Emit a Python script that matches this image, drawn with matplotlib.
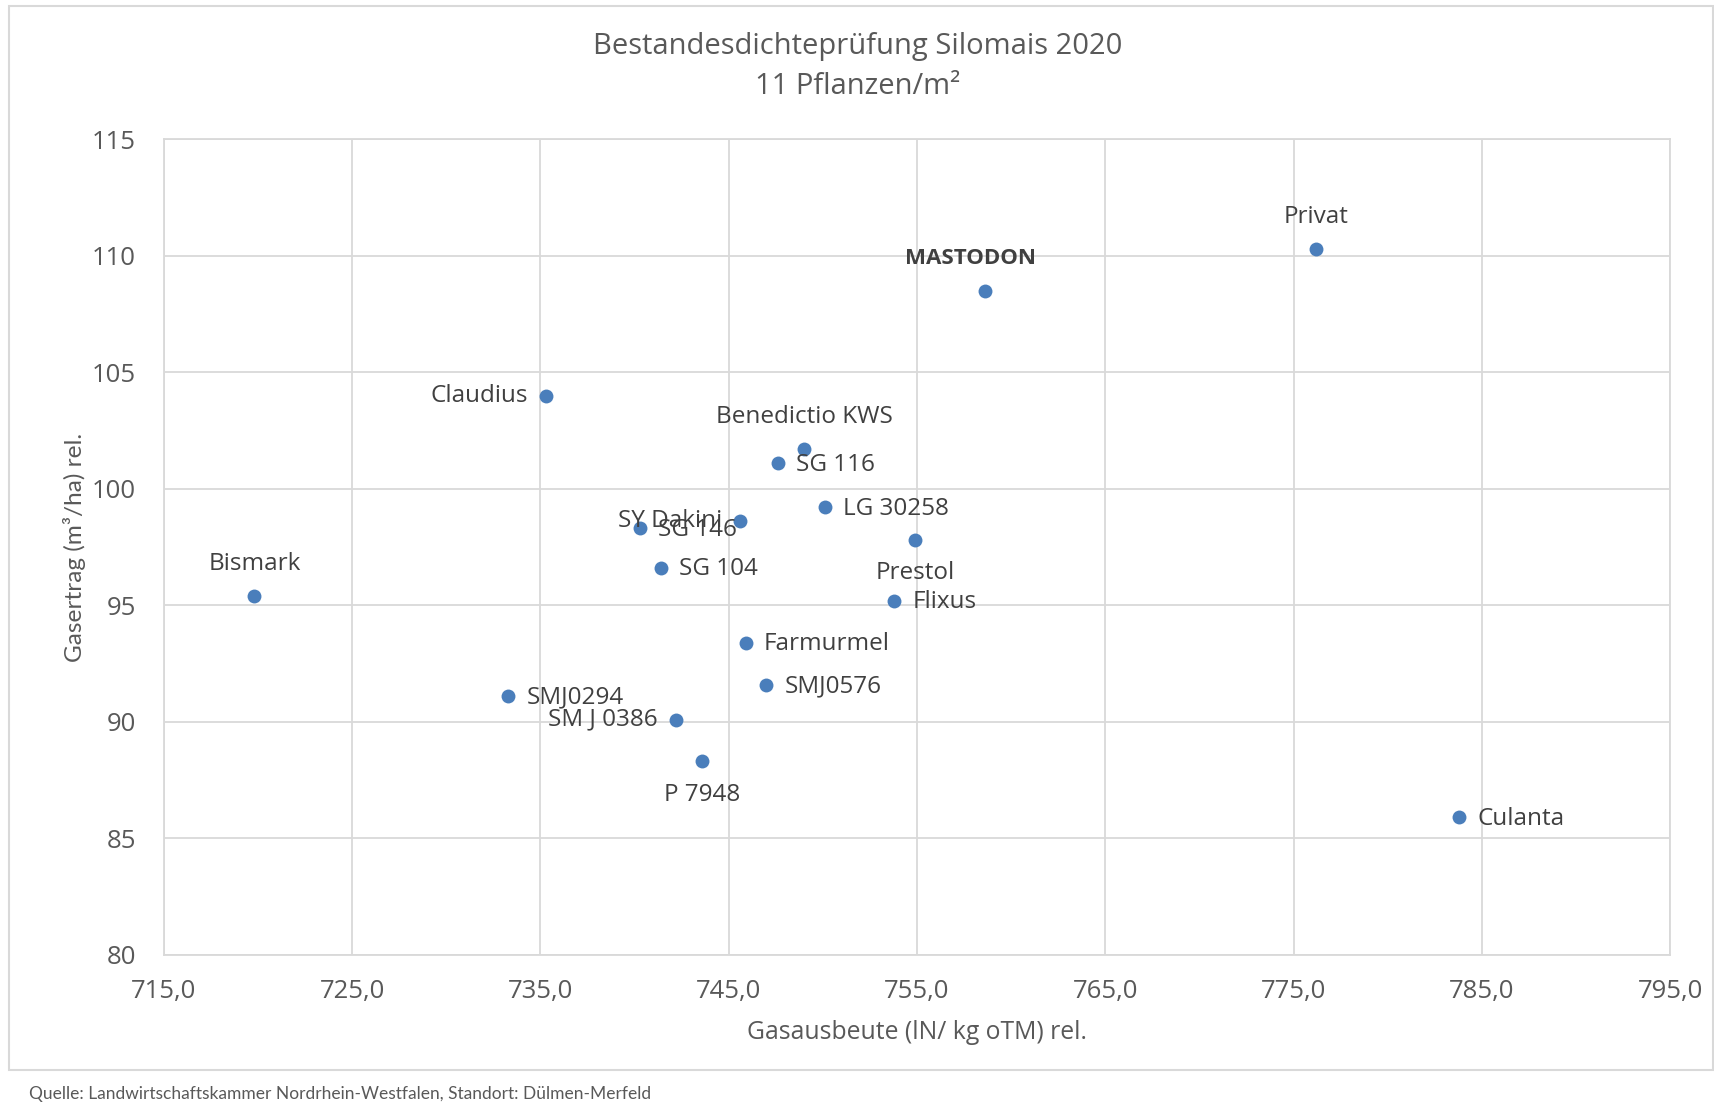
import matplotlib
matplotlib.use("Agg")
import matplotlib.pyplot as plt
from matplotlib.patches import Rectangle

# Sorten, Gasausbeute (x) und Gasertrag (y), relativ
sorten = ["Privat", "MASTODON", "Claudius", "Benedictio KWS", "SG 116", "LG 30258",
          "SY Dakini", "SG 146", "SG 104", "Prestol", "Flixus", "Bismark",
          "Farmurmel", "SMJ0576", "SMJ0294", "SM J 0386", "P 7948", "Culanta"]
gasausbeute = [776.2, 758.6, 735.3, 749.0, 747.6, 750.1,
               745.6, 740.3, 741.4, 754.9, 753.8, 719.8,
               745.9, 747.0, 733.3, 742.2, 743.6, 783.8]
gasertrag = [110.3, 108.5, 104.0, 101.7, 101.1, 99.2,
             98.6, 98.3, 96.6, 97.8, 95.2, 95.4,
             93.4, 91.6, 91.1, 90.1, 88.3, 85.9]

x_ticks = [715, 725, 735, 745, 755, 765, 775, 785, 795]
y_ticks = [80, 85, 90, 95, 100, 105, 110, 115]

# label placement: above / below / right / left of the point
pos = {"Privat": "above", "MASTODON": "above", "Claudius": "left",
       "Benedictio KWS": "above", "Prestol": "below", "Bismark": "above",
       "P 7948": "below", "SY Dakini": "left", "SM J 0386": "left"}

grey = "#595959"
grid = "#d9d9d9"
blue = "#4a7ebb"

fig = plt.figure(figsize=(17.15, 11.04), dpi=100)
ax = fig.add_axes([0.0956, 0.135, 0.8782, 0.739])

ax.scatter(gasausbeute, gasertrag, s=100, color=blue, zorder=3, linewidths=0)

for name, x, y in zip(sorten, gasausbeute, gasertrag):
    p = pos.get(name, "right")
    weight, size = "normal", 17.5
    if p == "above":
        off, ha, va = (0, 23), "center", "center"
        if name == "MASTODON":
            off, weight, size = (-10, 23), "bold", 16
    elif p == "below":
        off, ha, va = (0, -24), "center", "center"
    elif p == "left":
        off, ha, va = (-13, 0), "right", "center"
    else:
        off, ha, va = (13, -1), "left", "center"
    ax.annotate(name, (x, y), xytext=off, textcoords="offset points",
                ha=ha, va=va, fontsize=size, color="#404040",
                family="Open Sans", fontweight=weight, zorder=4)

ax.set_xlim(715, 795)
ax.set_ylim(80, 115)
ax.set_xticks(x_ticks)
ax.set_yticks(y_ticks)
ax.set_xticklabels([("%.1f" % v).replace(".", ",") for v in x_ticks])
ax.tick_params(axis="x", length=0, labelsize=18.5, labelcolor=grey, pad=17)
ax.tick_params(axis="y", length=0, labelsize=18.5, labelcolor=grey, pad=20)
for lab in ax.get_xticklabels() + ax.get_yticklabels():
    lab.set_family("Open Sans")
ax.grid(True, color=grid, linewidth=1.3)
ax.set_axisbelow(True)
for s in ax.spines.values():
    s.set_color(grid)
    s.set_linewidth(1.3)

ax.set_xlabel("Gasausbeute (lN/ kg oTM) rel.", fontsize=17.8, color=grey,
              family="Open Sans", labelpad=12)
ax.set_ylabel("Gasertrag (m³/ha) rel.", fontsize=17.6, color=grey,
              family="Lato", labelpad=4)

fig.text(0.5, 0.958, "Bestandesdichteprüfung Silomais 2020", ha="center", va="center",
         fontsize=21, color=grey, family="Open Sans")
fig.text(0.5, 0.922, "11 Pflanzen/m²", ha="center", va="center",
         fontsize=21, color=grey, family="Open Sans")
fig.text(0.017, 0.009, "Quelle: Landwirtschaftskammer Nordrhein-Westfalen, Standort: Dülmen-Merfeld",
         ha="left", va="center", fontsize=12.5, color=grey, family="Lato")

fig.patches.append(Rectangle((0.005, 0.031), 0.994, 0.964, transform=fig.transFigure,
                             fill=False, edgecolor="#d9d9d9", linewidth=1.5))

fig.savefig("out.png", dpi=100)
